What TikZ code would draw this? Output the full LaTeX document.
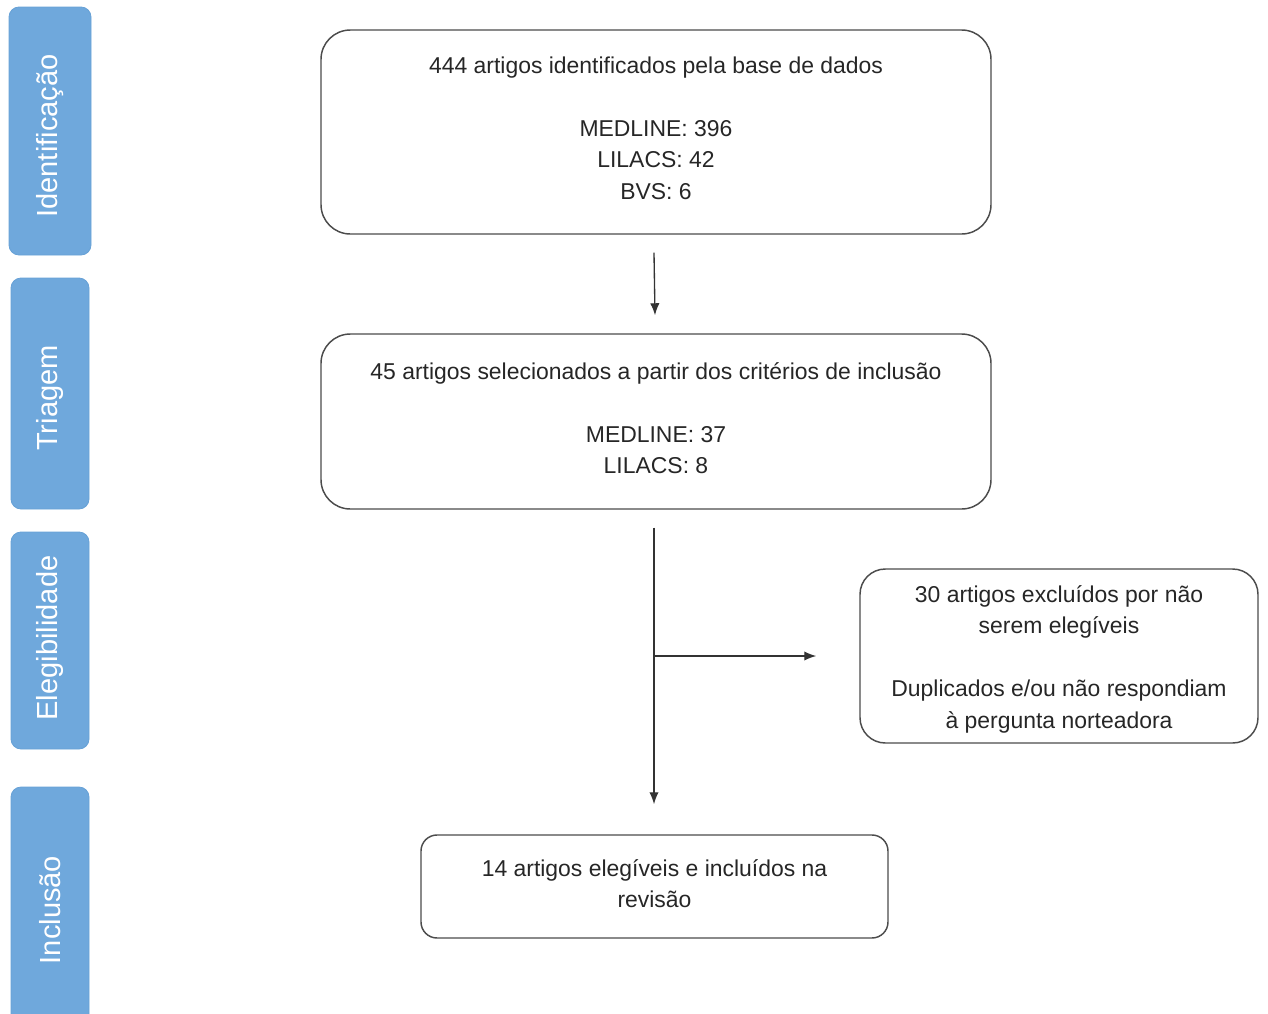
\documentclass[tikz,border=0pt]{standalone}
\usepackage{fontspec}
\setmainfont{Liberation Sans}
\usetikzlibrary{arrows.meta,calc}
\definecolor{barblue}{HTML}{6FA8DC}
\definecolor{bardraw}{HTML}{67A1D6}
\begin{document}
\begin{tikzpicture}[x=0.75pt,y=-0.75pt,
  bar/.style={fill=barblue,draw=bardraw,line width=0.6pt,rounded corners=7.5pt,inner sep=0pt},
  bartext/.style={text=white,font=\fontsize{21.8}{26}\selectfont,rotate=90,inner sep=0pt},
  flowbox/.style={draw=black!70,line width=1.1pt,rounded corners=22pt,inner sep=0pt},
  flowtext/.style={align=center,text=black!85,font=\fontsize{17.2}{23.6}\selectfont,inner sep=0pt},
  arr/.style={draw=black!80,line width=1pt,-{Latex[length=9pt,width=7pt]}}]
\useasboundingbox (0,0) rectangle (1268,1014);
% side bars
\node[bar,minimum width=61.5pt,minimum height=186pt] (bar1) at (50,131) {};
\node[bartext] (t1) at (50,136) {Identificação};
\node[bar,minimum width=58.5pt,minimum height=173.25pt] (bar2) at (50,393.5) {};
\node[bartext] (t2) at (50,398) {Triagem};
\node[bar,minimum width=58.5pt,minimum height=162.75pt] (bar3) at (50,640.5) {};
\node[bartext] (t3) at (50,638) {Elegibilidade};
\node[bar,minimum width=58.5pt,minimum height=182.25pt] (bar4) at (50,908.5) {};
\node[bartext] (t4) at (50,910) {Inclusão};
% boxes
\node[flowbox,minimum width=502.5pt,minimum height=153pt] (b1) at (656,132) {};
\node[flowtext] (x1) at (656,128)
  {444 artigos identificados pela base de dados\\[23.6pt] MEDLINE: 396\\ LILACS: 42\\ BVS: 6};
\node[flowbox,minimum width=502.5pt,minimum height=131.25pt] (b2) at (656,421.5) {};
\node[flowtext] (x2) at (656,418)
  {45 artigos selecionados a partir dos critérios de inclusão\\[23.6pt] MEDLINE: 37\\ LILACS: 8};
\node[flowbox,rounded corners=19pt,minimum width=298.5pt,minimum height=130.5pt] (b3) at (1059,656) {};
\node[flowtext] (x3) at (1059,659)
  {30 artigos excluídos por não\\ serem elegíveis\\[23.6pt] Duplicados e/ou não respondiam\\ à pergunta norteadora};
\node[flowbox,rounded corners=12pt,minimum width=350.25pt,minimum height=77.25pt] (b4) at (654.5,886.5) {};
\node[flowtext] (x4) at (654.5,883.5)
  {14 artigos elegíveis e incluídos na\\ revisão};
% connectors
\coordinate (a1s) at ($(b1.south)+(-2,18)$);
\coordinate (a1e) at ($(b2.north)+(-1,-18)$);
\draw[arr] (a1s) -- (a1e);
\coordinate (a2s) at ($(b2.south)+(-2,18)$);
\coordinate (a2e) at ($(b4.north)+(-0.5,-30)$);
\draw[arr] (a2s) -- (a2e);
\coordinate (br) at (654,656);
\coordinate (bre) at ($(b3.west)+(-43,0)$);
\draw[arr] (br) -- (bre);
\end{tikzpicture}
\end{document}
